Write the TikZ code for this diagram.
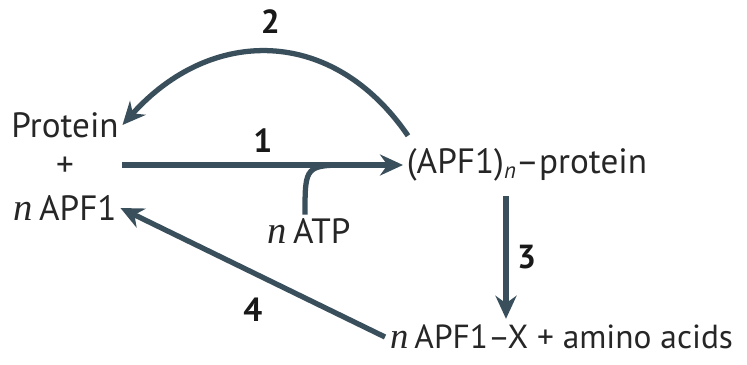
\documentclass[tikz,border=0pt]{standalone}
\usepackage{fontspec}
\setmainfont{PT Sans}
\newfontfamily\itnfont{Liberation Serif}[Scale=1.1]
\usepackage{xcolor}
\usetikzlibrary{arrows.meta, math}
\definecolor{myslate}{RGB}{58,79,92}
\newcommand{\nn}{{\itnfont\itshape n}\hspace{0.18em}}

\begin{document}
\begin{tikzpicture}[x=0.02cm, y=-0.02cm,
  every node/.style={font=\fontsize{20}{24}\selectfont, text=black!85, inner sep=2pt},
  rxn/.style={line width=3pt, draw=myslate, -{Stealth[length=0.46cm, width=0.42cm]}},
  num/.style={font=\fontsize{19}{22}\selectfont\bfseries, text=black!90}]
\tikzmath{
\xs=506;
}
\useasboundingbox (0,0) rectangle (747,365);
%species
\node (prot) at (65,125) {Protein};
\node (plus) at (65,167) {+};
\node (napf) at (65,208) {\nn APF1};
\node[anchor=west] (cplx) at (403,165) {(APF1)\raisebox{-0.3ex}{\fontsize{13}{14}\selectfont\itshape n}--protein};
\node (atp) at (309,231) {\nn ATP};
\node[anchor=west, font=\fontsize{19}{23}\selectfont, inner sep=1pt] (prod) at (388,337) {\nn APF1--X + amino acids};
\coordinate (c3) at (\xs,0);

%reactions
\draw[rxn] (prot.east |- cplx.west) -- node[num, midway, above=0.12cm] (l1) {1} coordinate[pos=0.82] (join) (cplx.west);
\draw[line width=3pt, draw=myslate] ([xshift=-0.08cm]atp.north) .. controls ([xshift=-0.08cm]atp.north |- join) .. (join);
\draw[rxn] ([shift={(0.1cm,0.18cm)}]cplx.north west) .. controls (333,26) and (211,26) .. (prot.east) node[num, pos=0.5, above=0.25cm] (l2) {2};
\draw[rxn] ([yshift=-0.22cm]cplx.south -| c3) -- ([yshift=0.08cm]prod.north -| c3) node[num, midway, right=0.1cm] (l3) {3};
\draw[rxn] ([xshift=-0.06cm]prod.west) -- (napf.east) node[num, midway, below=0.38cm] (l4) {4};
\end{tikzpicture}
\end{document}
